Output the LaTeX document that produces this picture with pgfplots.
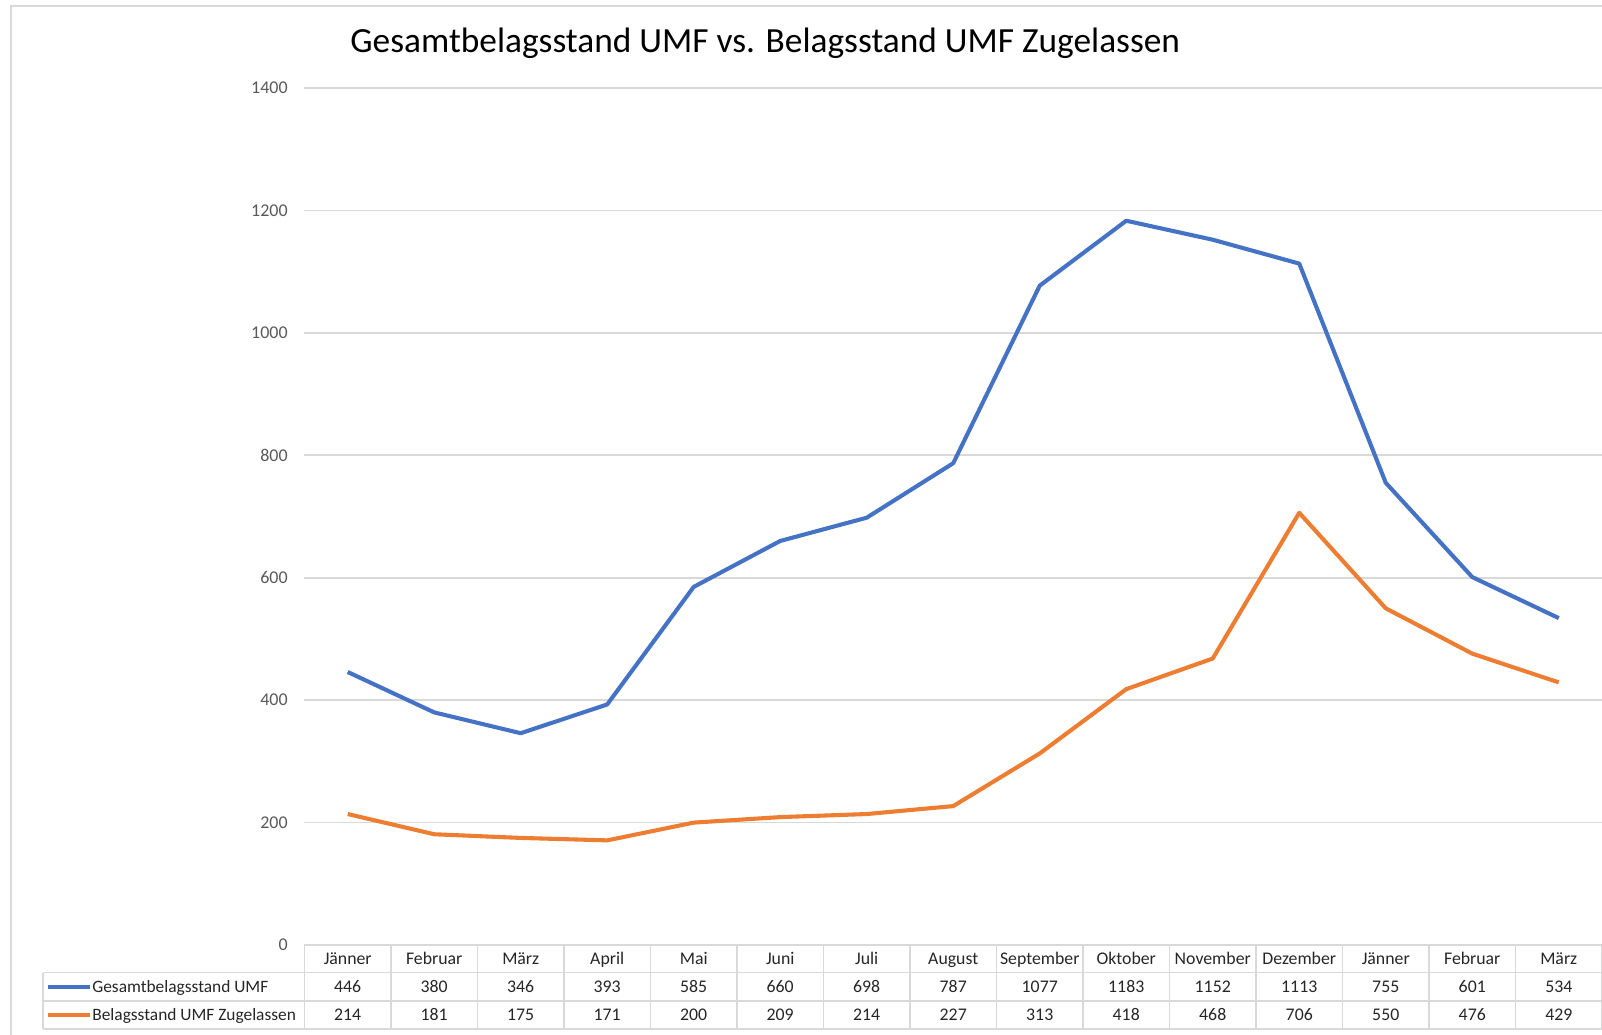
\documentclass[border=0pt]{standalone}
\usepackage{fontspec}
\setmainfont{Carlito}
\usepackage{pgfplots}
\pgfplotsset{compat=1.18}
\usepackage{pgfplotstable}
\definecolor{cblue}{HTML}{4472C4}
\definecolor{corange}{HTML}{ED7D31}
\definecolor{cgrid}{HTML}{D9D9D9}
\definecolor{ctick}{HTML}{595959}
\definecolor{ctext}{HTML}{262626}

\pgfplotstableread{
x g b
0 446 214
1 380 181
2 346 175
3 393 171
4 585 200
5 660 209
6 698 214
7 787 227
8 1077 313
9 1183 418
10 1152 468
11 1113 706
12 755 550
13 601 476
14 534 429
}\data

\begin{document}
\begin{tikzpicture}[x=0.5pt,y=-0.5pt]
\useasboundingbox (0,0) rectangle (1568,1013);
\draw[cgrid, line width=0.9pt] (10.8,1013) -- (10.8,5.5) -- (1568,5.5);
\node[font=\fontsize{17.3}{20}\selectfont, text=black, anchor=base] at (749,51) {Gesamtbelagsstand UMF vs. Belagsstand UMF Zugelassen};
\begin{axis}[
  at={(149pt,-462.5pt)}, anchor=south west,
  scale only axis, width=635pt, height=419.5pt,
  xmin=-0.5, xmax=14.5, ymin=0, ymax=1400,
  ytick={0,200,...,1400},
  xtick={0,...,14},
  xticklabels={Jänner,Februar,März,April,Mai,Juni,Juli,August,September,Oktober,November,Dezember,Jänner,Februar,März},
  xticklabel style={anchor=base, yshift=-9.5pt, font=\fontsize{8.7}{10}\selectfont, text=ctext, inner sep=0pt},
  ymajorgrids, grid style={cgrid, line width=0.8pt},
  axis line style={draw=none},
  tick style={draw=none}, major tick length=0pt,
  yticklabel style={font=\fontsize{8.8}{10}\selectfont, text=ctick, anchor=east, xshift=-4.7pt},
  /pgf/number format/assume math mode=true,
  /pgf/number format/1000 sep={},
  clip=false,
  nodes near coords style={anchor=base, font=\fontsize{8.7}{10}\selectfont, text=ctext, inner sep=0pt},
]
\addplot[cblue, line width=2pt, line join=round, mark=none] table[x=x, y=g] {\data};
\addplot[corange, line width=2pt, line join=round, mark=none] table[x=x, y=b] {\data};
\addplot[draw=none, mark=none, nodes near coords, point meta=explicit] table[x=x, y expr=-77.9, meta=g] {\data};
\addplot[draw=none, mark=none, nodes near coords, point meta=explicit] table[x=x, y expr=-123.8, meta=b] {\data};
\end{axis}
% data table grid
\foreach \k in {0,...,15} {
  \draw[cgrid, line width=0.8pt] ({298+\k*84.667},925) -- ({298+\k*84.667},1007);
}
\draw[cgrid, line width=0.8pt] (298,925) -- (1568,925);
\draw[cgrid, line width=0.8pt] (42,952) -- (1568,952);
\draw[cgrid, line width=0.8pt] (42,980) -- (1568,980);
\draw[cgrid, line width=0.8pt] (42,1007) -- (1568,1007);
\draw[cgrid, line width=0.8pt] (42,952) -- (42,1007);
% legend keys
\draw[cblue, line width=2pt] (47,966) -- (88,966);
\draw[corange, line width=2pt] (47,993.5) -- (88,993.5);
\node[anchor=base west, inner sep=0pt, font=\fontsize{8.5}{10}\selectfont, text=ctext] at (90,971.7) {Gesamtbelagsstand UMF};
\node[anchor=base west, inner sep=0pt, font=\fontsize{8.5}{10}\selectfont, text=ctext] at (90,999.2) {Belagsstand UMF Zugelassen};
\end{tikzpicture}
\end{document}
